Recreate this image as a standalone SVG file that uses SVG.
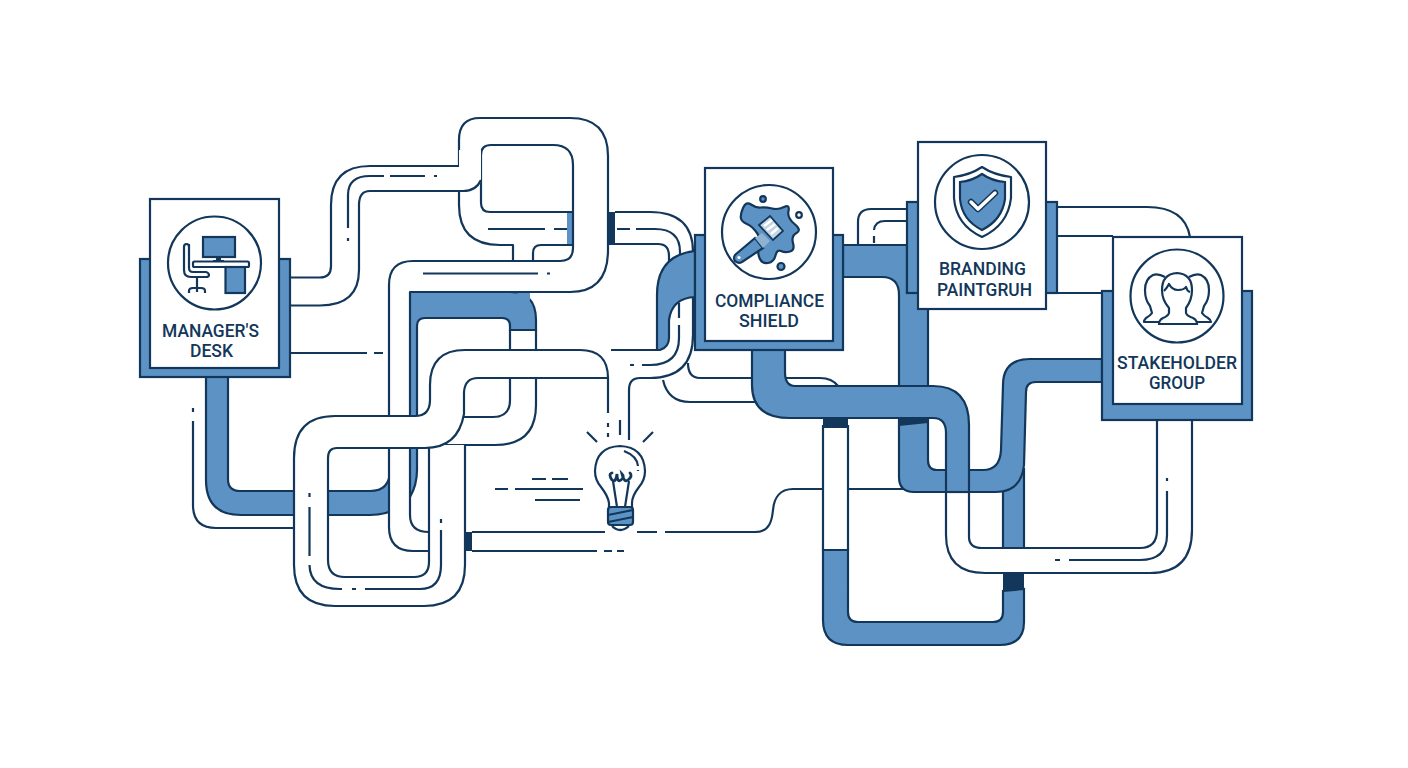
<svg xmlns="http://www.w3.org/2000/svg" width="1408" height="768" viewBox="0 0 1408 768">
<style>
.w{fill:#fff;stroke:none}
.b{fill:#5d93c4;stroke:none}
.bs{fill:#5d93c4;stroke:#12375a;stroke-width:2.2}
.n{fill:#12375a;stroke:none}
.e{fill:none;stroke:#12375a;stroke-width:2.2;stroke-linejoin:round}
.d{fill:none;stroke:#12375a;stroke-width:2.2}
.ws{fill:#fff;stroke:#12375a;stroke-width:2.2}
.c{fill:#fff;stroke:#12375a;stroke-width:2.2}
.t{font-family:"Roboto","Liberation Sans",sans-serif;font-size:17.5px;font-weight:500;fill:#12375a}
</style>
<rect width="1408" height="768" fill="#fff"/>
<g id="connectors">
<path class="e" d="M290,353H367M374,353H383"/>
<path class="e" d="M193,408V412M193,421V505Q193,528 216,528H294"/>
<!-- blue pipe from the desk -->
<path class="bs" d="M206,377V480Q206,515 241,515H370Q395,515 410,497Q417,485 417,470V326Q417,318 425,318H502Q510,318 510,326V330H536V320Q536,292 510,292H410Q390,292 390,310V470Q390,491 370,491H240Q228,491 228,479V377Z"/>
<path class="b" d="M516,293H530V301Z"/>
<path class="e" d="M510,330V400Q510,417 493,417H455M536,330V405Q536,445 495,445H445"/>
<!-- spiral pipe -->
<path class="w" d="M429,532Q410,532 410,515V292H570Q608,292 608,250V156Q608,118 570,118H480Q459,118 459,140V205Q459,245 500,245H573V212H490Q481,212 481,203V155Q481,145 491,145H553Q573,145 573,165V248Q573,261 560,261H413Q389,261 389,285V527Q389,551 413,551H429Z"/>
<path class="b" d="M567,213H573V245H567Z"/>
<path class="e" d="M429,532Q410,532 410,515V292H570Q608,292 608,250V156Q608,118 570,118H480Q459,118 459,140V205Q459,245 500,245H513V261M533,261V253Q533,245 541,245H573"/>
<path class="e" d="M573,212H490Q481,212 481,203V155Q481,145 491,145H553Q573,145 573,165V248Q573,261 560,261H413Q389,261 389,285V527Q389,551 413,551H429"/>
<path class="d" d="M488,229H545M554,229H567M423,273.500H538M547,273.500H550"/>
<rect class="n" x="607" y="212" width="8" height="33"/>
<!-- pipe from desk to spiral -->
<path class="w" d="M290,277.500H320Q331,277.500 331,266V205Q331,166 370,166H459V150H481V182Q476,191 463,191H370Q359,191 359,205V270Q359,305.500 320,305.500H290Z"/>
<path class="e" d="M290,277.500H320Q331,277.500 331,266V205Q331,166 370,166H459M290,305.500H320Q359,305.500 359,270V205Q359,191 370,191H463Q476,191 481,180"/>
<path class="d" d="M348,241V238M348,228V195Q348,176 370,176H384M390,176H425M434,176H437"/>
<!-- big loop and S pipe -->
<path class="w" d="M465,445V565Q465,606 424,606H335Q294,606 294,565V470H328V560Q328,577 345,577H414Q429,577 429,562V445Z"/>
<path class="e" d="M465,445V565Q465,606 424,606H335Q294,606 294,565V470M328,470V560Q328,577 345,577H414Q429,577 429,562V445"/>
<path class="w" d="M294,470V458Q294,416 335,416H415Q430,416 430,400V385Q430,350 465,350H580Q608,350 608,378H478Q465,378 464,392V414Q458,448 425,448H337Q328,448 328,458V470Z"/>
<path class="e" d="M294,470V458Q294,416 335,416H415Q430,416 430,400V385Q430,350 465,350H580Q608,350 608,378M608,378H478Q465,378 464,392V414Q458,448 425,448H337Q328,448 328,458V470"/>
<path class="d" d="M309.500,493V497M309.500,507V556M309.500,565Q310,589 340,589H342M352,589H356M365,589H420Q441,589 441,565V530M441,519V523"/>
<!-- line group to bulb -->
<path class="e" d="M608,378V413M608,423V427M608,433V437M620,420V435M629,440V390Q629,378 640,378H650Q693,378 693,335V252Q693,212 650,212H615M615,244H658Q669,244 669,256V270"/>
<path class="d" d="M617,229H630M636,229H655Q680,229 680,252V262M679,303V318M679,325V338Q679,365 650,365H642M634,365H630"/>
<path class="bs" d="M695,251Q657,255 657,295V350H660Q669,347 669,338V320Q672,298 695,297Z"/>
<path class="e" d="M611,350H660"/>
<path class="e" d="M688,363Q688,378 700,378H752M786,378H820Q832,378 838,386M663,380Q668,402 690,402H755"/>
<rect class="n" x="465" y="532" width="7" height="19"/>
<path class="e" d="M472,532H605M637,532H657M665,532H755C770,532 772,520 773,510C774,498 780,489 793,489H823M848,489H905M472,551H597M604,551H612M617,551H624"/>
<path class="d" d="M532,479H546M552,479H568M495,489H508M515,489H583M535,500H580"/>
<!-- lower right blue U -->
<path class="w" d="M823,425H848V550H823Z"/>
<path class="e" d="M823,425V550M848,425V550M823,550H848"/>
<path class="bs" d="M823,550V620Q823,645 848,645H1000Q1024,645 1024,622V589L1003,591V612Q1003,622 993,622H858Q848,622 848,612V550Z"/>
<rect class="b" x="1003" y="470" width="21" height="80"/>
<path class="e" d="M1003,480V550M1024,468V550"/>
<!-- blue pipe from compliance to branding and stakeholder -->
<path class="bs" d="M843,245H907V293H928V460Q928,470 937,470H983Q1000,470 1001,450L1003,385Q1003,359 1030,359H1102V382H1036Q1026,382 1026,392L1024,465Q1021,492 996,492H914Q899,492 899,477V295Q899,277 882,277H843Z"/>
<!-- pipe from compliance to stakeholder -->
<path class="b" d="M752,350V385Q752,418 790,418H933Q946,418 946,433V491H969V425Q969,386 933,386H795Q785,386 785,372V350Z"/>
<path class="w" d="M946,491V535Q946,573 985,573H1150Q1192,573 1192,530V420H1157V530Q1157,548 1140,548H982Q969,548 969,537V491Z"/>
<path class="e" d="M752,350V385Q752,418 790,418H933Q946,418 946,433V535Q946,573 985,573H1150Q1192,573 1192,530V420M785,350V372Q785,386 795,386H933Q969,386 969,425V537Q969,548 982,548H1140Q1157,548 1157,530V420"/>
<path class="e" d="M946,492H969"/>
<path class="d" d="M1167,478V481M1167,491V535Q1167,560 1140,560H1069M1055,560H1060"/>
<path class="n" d="M823,418H848V428H823Z"/>
<path class="n" d="M899,418H928V423L899,426Z"/>
<path class="n" d="M1003,574H1024V589L1003,591Z"/>
<path class="e" d="M858,245V222Q858,209 871,209H907M874,243V236M874,230Q875,221 885,221H907"/>
<path class="e" d="M1057,207H1147Q1185,207 1190,237M1057,236H1113M1057,293H1102"/>
</g>
<g id="managers-desk">
<rect class="bs" x="140" y="259" width="150" height="118"/>
<rect class="c" x="150" y="199" width="129" height="169"/>
<circle class="c" cx="214.500" cy="263" r="46.500"/>
<rect class="bs" x="203" y="237" width="32" height="20"/>
<path class="n" d="M216,257H221V260H224V262H213V260H216Z"/>
<rect class="c" x="193" y="261.500" width="56" height="5.500" rx="1.500"/>
<rect class="bs" x="225.500" y="267" width="19.500" height="26"/>
<path class="e" d="M189,244V268Q189,272 193,272H206Q209,273 209,275Q209,277 206,277H191Q184,277 184,270V247Q184,244 186.500,244Q189,244 189,247"/>
<path class="e" d="M197,277V288M189,293V291Q189,288 193,288H201Q205,288 205,291V293M197,288V292"/>
<text class="t" x="210.500" y="337" text-anchor="middle" textLength="97" lengthAdjust="spacingAndGlyphs">MANAGER'S</text>
<text class="t" x="211.500" y="357" text-anchor="middle" textLength="43" lengthAdjust="spacingAndGlyphs">DESK</text>
</g>
<g id="compliance-shield">
<rect class="bs" x="695" y="235" width="148" height="115"/>
<rect class="c" x="705" y="168" width="128" height="173"/>
<circle class="c" cx="769" cy="232" r="47"/>
<path class="bs" stroke-width="1.800" d="M741,218.500Q740,215 743,208Q746,201 751,204.500Q756,208 761,207.500Q766,207 772,208.500Q778,210 784,207Q790,204 788.500,211Q787,218 794.500,224Q802,230 796.500,233Q791,236 793,243Q795,250 790,251.500Q785,253 781,251Q777,249 775.500,255.500Q774,262 768,263Q762,264 759.500,258Q757,252 759.500,246Q762,240 757,233Q752,226 747,224Q742,222 741,218.500Z"/>
<path class="bs" d="M755,238L735,255Q733,258 735,261Q738,264 742,262L763,248Z"/>
<circle class="w" cx="739" cy="257.500" r="1.600"/>
<path fill="#8fb1d2" d="M755,238L762,233L770,241L763,248Z"/>
<path fill="#c3d5e6" stroke="#12375a" stroke-width="1.800" d="M759,225L770,216L783,231L773,240Z"/>
<path fill="none" stroke="#fff" stroke-width="2.500" d="M764,226L772,220M767,230L775,224M771,234L778,228"/>
<circle class="bs" cx="763" cy="199" r="2.800"/>
<circle class="c" cx="799" cy="215" r="2.800"/>
<circle class="bs" cx="781" cy="266.500" r="3.500"/>
<text class="t" x="769.500" y="307" text-anchor="middle" textLength="109" lengthAdjust="spacingAndGlyphs">COMPLIANCE</text>
<text class="t" x="769" y="327" text-anchor="middle" textLength="60" lengthAdjust="spacingAndGlyphs">SHIELD</text>
</g>
<g id="branding-paintbrush">
<rect class="bs" x="907" y="202" width="150" height="91"/>
<rect class="c" x="918" y="142" width="128" height="167"/>
<circle class="c" cx="982" cy="202" r="47"/>
<path class="e" d="M982,167Q970,175 954,177V198Q956,225 982,237Q1008,225 1011,198V177Q994,175 982,167Z"/>
<path class="bs" d="M982,174Q972,181 960,182V199Q962,220 982,230Q1002,220 1005,199V182Q992,181 982,174Z"/>
<path fill="none" stroke="#12375a" stroke-width="6.500" stroke-linecap="round" stroke-linejoin="round" d="M971,202L978,209L995,193"/>
<path fill="none" stroke="#fff" stroke-width="3.500" stroke-linecap="round" stroke-linejoin="round" d="M971,202L978,209L995,193"/>
<text class="t" x="982.500" y="275" text-anchor="middle" textLength="87" lengthAdjust="spacingAndGlyphs">BRANDING</text>
<text class="t" x="984.500" y="296" text-anchor="middle" textLength="95" lengthAdjust="spacingAndGlyphs">PAINTGRUH</text>
</g>
<g id="stakeholder-group">
<rect class="bs" x="1102" y="291" width="150" height="129"/>
<rect class="c" x="1113" y="237" width="129" height="167"/>
<circle class="c" cx="1177" cy="296" r="46.500"/>
<path class="e" d="M1165,277Q1158,273 1153,275Q1145,279 1145,290Q1145,300 1150,306L1152,313Q1150,316 1146,318Q1144,320 1144,322H1159"/>
<path class="e" d="M1189,277Q1196,273 1201,275Q1209,279 1209,290Q1209,300 1204,306L1202,313Q1204,316 1208,318Q1211,320 1211,322H1196"/>
<path class="c" d="M1162,290Q1162,274 1177,273Q1192,274 1192,290Q1192,300 1186,308V313Q1187,316 1193,318Q1197,320 1197,324H1159Q1159,320 1163,318Q1168,316 1169,313V308Q1162,300 1162,290Z"/>
<path class="e" d="M1164,291Q1167,288 1169,284Q1172,290 1178,290Q1184,290 1186,287Q1187,291 1190,292"/>
<text class="t" x="1177" y="369" text-anchor="middle" textLength="120" lengthAdjust="spacingAndGlyphs">STAKEHOLDER</text>
<text class="t" x="1177" y="389" text-anchor="middle" textLength="56" lengthAdjust="spacingAndGlyphs">GROUP</text>
</g>
<g id="lightbulb">
<path class="e" d="M587,432L597,442M653,432L643,442"/>
<path class="c" d="M609,508V503Q608,496 601,487Q595,480 595,471Q596,447 620,446Q644,447 645,471Q645,480 639,487Q632,496 632,503V508Z"/>
<path class="e" d="M624,451Q637,456 638,466M638,470V471"/>
<path class="e" d="M617,507L613,481M625,507L629,481"/>
<path fill="none" stroke="#12375a" stroke-width="2.800" stroke-linecap="round" d="M612,473Q608,474 612,480Q616,483 617,474Q617,483 621,480Q625,477 622,474Q624,483 628,480Q633,476 630,473"/>
<rect class="bs" x="608" y="507" width="25" height="18" rx="3"/>
<path class="e" d="M608,515L633,510M608,522L633,517"/>
<path class="e" d="M612,526Q620,534 629,526"/>
</g>
</svg>
